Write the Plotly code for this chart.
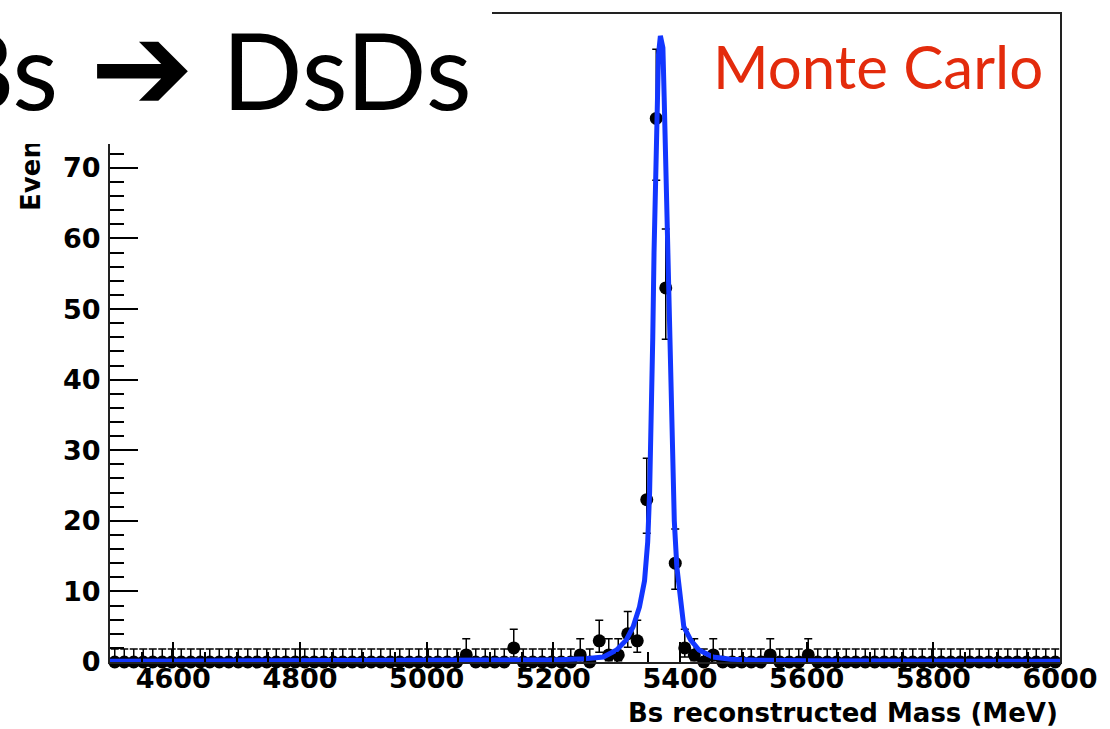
import plotly.graph_objects as go

# ---------------- data ----------------
x_min, x_max = 4500.0, 6000.0
bin_width = 15.0
# bin centres 4507.5 ... 5992.5 (100 bins)
bin_centers = [x_min + bin_width * (k + 0.5) for k in range(100)]

counts = [
    0, 0, 0, 0, 0, 0, 0, 0, 0, 0,
    0, 0, 0, 0, 0, 0, 0, 0, 0, 0,
    0, 0, 0, 0, 0, 0, 0, 0, 0, 0,
    0, 0, 0, 0, 0, 0, 0, 1, 0, 0,
    0, 0, 2, 0, 0, 0, 0, 0, 0, 1,
    0, 3, 1, 1, 4, 3, 23, 77, 53, 14,
    2, 1, 0, 1, 0, 0, 0, 0, 0, 1,
    0, 0, 0, 1, 0, 0, 0, 0, 0, 0,
    0, 0, 0, 0, 0, 0, 0, 0, 0, 0,
    0, 0, 0, 0, 0, 0, 0, 0, 0, 0,
]

# asymmetric (Poisson) error sizes as seen for each count value
err_up_by_count = {0: 1.84, 1: 2.30, 2: 2.64, 3: 2.92, 4: 3.16,
                   14: 4.83, 23: 5.87, 53: 8.33, 77: 9.82}
err_lo_by_count = {0: 0.0, 1: 0.83, 2: 1.29, 3: 1.63, 4: 1.91,
                   14: 3.70, 23: 4.77, 53: 7.26, 77: 8.76}

# fitted curve
fit_mass = [4500, 4800, 5100, 5200, 5250, 5279, 5300, 5315, 5326, 5336,
            5344, 5349, 5352, 5355, 5357, 5359, 5361, 5363, 5366, 5369,
            5373, 5375, 5377, 5380, 5382.5, 5385, 5388, 5391, 5395, 5401,
            5406, 5417, 5430, 5452, 5480, 5520, 5600, 6000]
fit_value = [0.1, 0.12, 0.2, 0.3, 0.45, 0.7, 1.7, 3.1, 5.0, 7.8,
             11.5, 17, 24, 35, 46, 58, 69, 78, 86, 88.7,
             87, 80, 72, 62, 50, 38, 28, 20, 13.5, 8.8,
             5.0, 3.1, 1.7, 0.7, 0.4, 0.25, 0.18, 0.1]

title_left = "Bs"
title_arrow = "\u2794"
title_right = "DsDs"
label_text = "Monte Carlo"
x_title = "Bs reconstructed Mass (MeV)"
y_title = "Events"

x_tick_vals = [4600, 4800, 5000, 5200, 5400, 5600, 5800, 6000]
y_tick_vals = [0, 10, 20, 30, 40, 50, 60, 70]

# ---------------- layout geometry ----------------
W, H = 1110, 729
L, R, T, B = 110, 1069, 13, 662
y_top = 91.8


def px(x):
    return (x - L) / (R - L)


def py(y):
    return (B - y) / (B - T)


err_up = [err_up_by_count[c] for c in counts]
err_lo = [err_lo_by_count[c] for c in counts]
half_bin = [bin_width / 2] * len(bin_centers)

fig = go.Figure()
fig.add_trace(go.Scatter(
    x=bin_centers, y=counts, mode="markers",
    marker=dict(symbol="circle", size=13, color="black"),
    error_y=dict(type="data", symmetric=False, array=err_up, arrayminus=err_lo,
                 color="black", thickness=1.5, width=4),
    error_x=dict(type="data", array=half_bin, color="black", thickness=2, width=0),
    cliponaxis=False, showlegend=False, hoverinfo="x+y",
))
fig.add_trace(go.Scatter(
    x=fit_mass, y=fit_value, mode="lines",
    line=dict(color="#1236ff", width=5),
    showlegend=False, hoverinfo="skip",
))

axis_font = dict(family="DejaVu Sans", size=27, color="black", weight="bold")
title_font = dict(family="Lato", size=106, color="black")

fig.update_layout(
    width=W, height=H,
    margin=dict(l=L, r=W - R, t=T, b=H - B, pad=0),
    paper_bgcolor="white", plot_bgcolor="white",
    xaxis=dict(
        range=[x_min, x_max], showgrid=False, zeroline=False,
        showline=True, linecolor="#222", linewidth=2, mirror=True,
        tickmode="array", tickvals=x_tick_vals,
        ticks="inside", ticklen=20, tickwidth=1.5, tickcolor="black",
        minor=dict(dtick=50, tick0=4500, ticks="inside", ticklen=10,
                   tickwidth=1.5, tickcolor="black", showgrid=False),
        tickfont=axis_font, ticklabelstandoff=-8,
    ),
    yaxis=dict(
        range=[0, y_top], showgrid=False, zeroline=False,
        showline=True, linecolor="#222", linewidth=2, mirror=True,
        tickmode="array", tickvals=y_tick_vals,
        ticks="inside", ticklen=28, tickwidth=1.5, tickcolor="black",
        minor=dict(dtick=2, tick0=0, ticks="inside", ticklen=14,
                   tickwidth=1.5, tickcolor="black", showgrid=False),
        tickfont=axis_font, ticklabelstandoff=2,
    ),
    annotations=[
        # y-axis title (top part hidden by the title box)
        dict(text=y_title, xref="paper", yref="paper", x=px(30), y=py(212),
             xanchor="center", yanchor="bottom", textangle=-90, showarrow=False,
             font=dict(family="DejaVu Sans", size=26, color="black", weight="bold")),
        # white box behind the slide title
        dict(text=" ", xref="paper", yref="paper", x=px(-120), y=py(-10),
             xanchor="left", yanchor="top", showarrow=False,
             width=610, height=153, bgcolor="white", borderpad=0, borderwidth=0),
        # slide title, in three pieces
        dict(text=title_left, xref="paper", yref="paper", x=px(60), y=py(68),
             xanchor="right", yanchor="middle", showarrow=False, font=title_font),
        dict(text=title_arrow, xref="paper", yref="paper", x=px(142), y=py(66),
             xanchor="center", yanchor="middle", showarrow=False,
             font=dict(family="DejaVu Sans", size=124, color="black")),
        dict(text=title_right, xref="paper", yref="paper", x=px(477), y=py(68),
             xanchor="right", yanchor="middle", showarrow=False, font=title_font),
        dict(text=label_text, xref="paper", yref="paper", x=px(1054), y=py(65),
             xanchor="right", yanchor="middle", showarrow=False,
             font=dict(family="Lato", size=60, color="#e32b0c")),
        dict(text=x_title, xref="paper", yref="paper", x=px(1069), y=py(713),
             xanchor="right", yanchor="middle", showarrow=False,
             font=dict(family="DejaVu Sans", size=26, color="black", weight="bold")),
    ],
)

fig.write_html("out.html")
